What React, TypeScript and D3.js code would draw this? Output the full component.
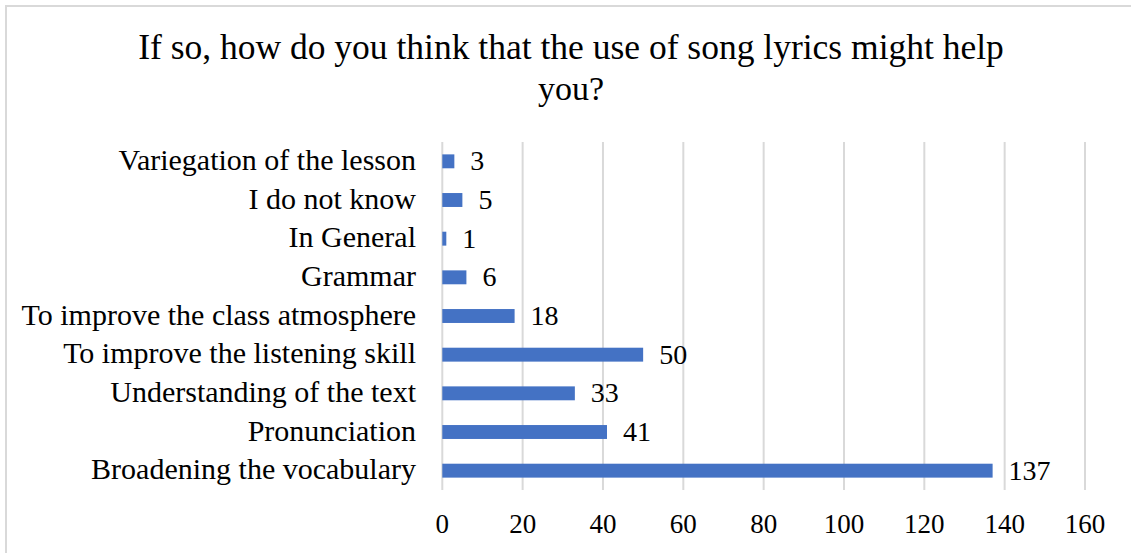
import React from "react";
import * as d3 from "d3";

const categories = [
  "Variegation of the lesson",
  "I do not know",
  "In General",
  "Grammar",
  "To improve the class atmosphere",
  "To improve the listening skill",
  "Understanding of the text",
  "Pronunciation",
  "Broadening the vocabulary",
];
const values = [3, 5, 1, 6, 18, 50, 33, 41, 137];
const ticks = [0, 20, 40, 60, 80, 100, 120, 140, 160];
const titleLines = [
  "If so, how do you think that the use of song lyrics might help",
  "you?",
];

const W = 1131;
const H = 553;
const FONT = "'Liberation Serif', 'Times New Roman', serif";

export default function App() {
  const x = d3.scaleLinear().domain([0, 160]).range([442.3, 1085]);
  const y = d3
    .scaleBand<string>()
    .domain(categories)
    .range([142, 490])
    .paddingInner(0.64)
    .paddingOuter(0.32);
  const bh = y.bandwidth();
  return (
    <svg
      width={W}
      height={H}
      style={{ position: "absolute", left: 0, top: 0, background: "#fff" }}
    >
      <rect x={0} y={0} width={W} height={H} fill="#fff" />
      <rect
        x={6}
        y={6}
        width={W + 20}
        height={H + 20}
        fill="none"
        stroke="#d9d9d9"
        strokeWidth={2}
      />
      {titleLines.map((t, i) => (
        <text
          key={i}
          x={571}
          y={59 + i * 41}
          textAnchor="middle"
          fontFamily={FONT}
          fontSize={i === 0 ? 35.5 : 34}
          fill="#000"
        >
          {t}
        </text>
      ))}
      {ticks.map((t) => (
        <line
          key={"g" + t}
          x1={x(t)}
          x2={x(t)}
          y1={142}
          y2={490}
          stroke="#d9d9d9"
          strokeWidth={2}
        />
      ))}
      {ticks.map((t) => (
        <text
          key={"t" + t}
          x={x(t)}
          y={533}
          textAnchor="middle"
          fontFamily={FONT}
          fontSize={27}
          fill="#000"
        >
          {t}
        </text>
      ))}
      {categories.map((c, i) => {
        const yc = (y(c) as number) + bh / 2;
        return (
          <g key={c}>
            <rect
              x={x(0)}
              y={y(c)}
              width={x(values[i]) - x(0)}
              height={bh}
              fill="#4472C4"
            />
            <text
              x={416}
              y={yc + 8.5}
              textAnchor="end"
              fontFamily={FONT}
              fontSize={30}
              fill="#000"
            >
              {c}
            </text>
            <text
              x={x(values[i]) + 16}
              y={yc + 9}
              textAnchor="start"
              fontFamily={FONT}
              fontSize={28}
              fill="#000"
            >
              {values[i]}
            </text>
          </g>
        );
      })}
    </svg>
  );
}
